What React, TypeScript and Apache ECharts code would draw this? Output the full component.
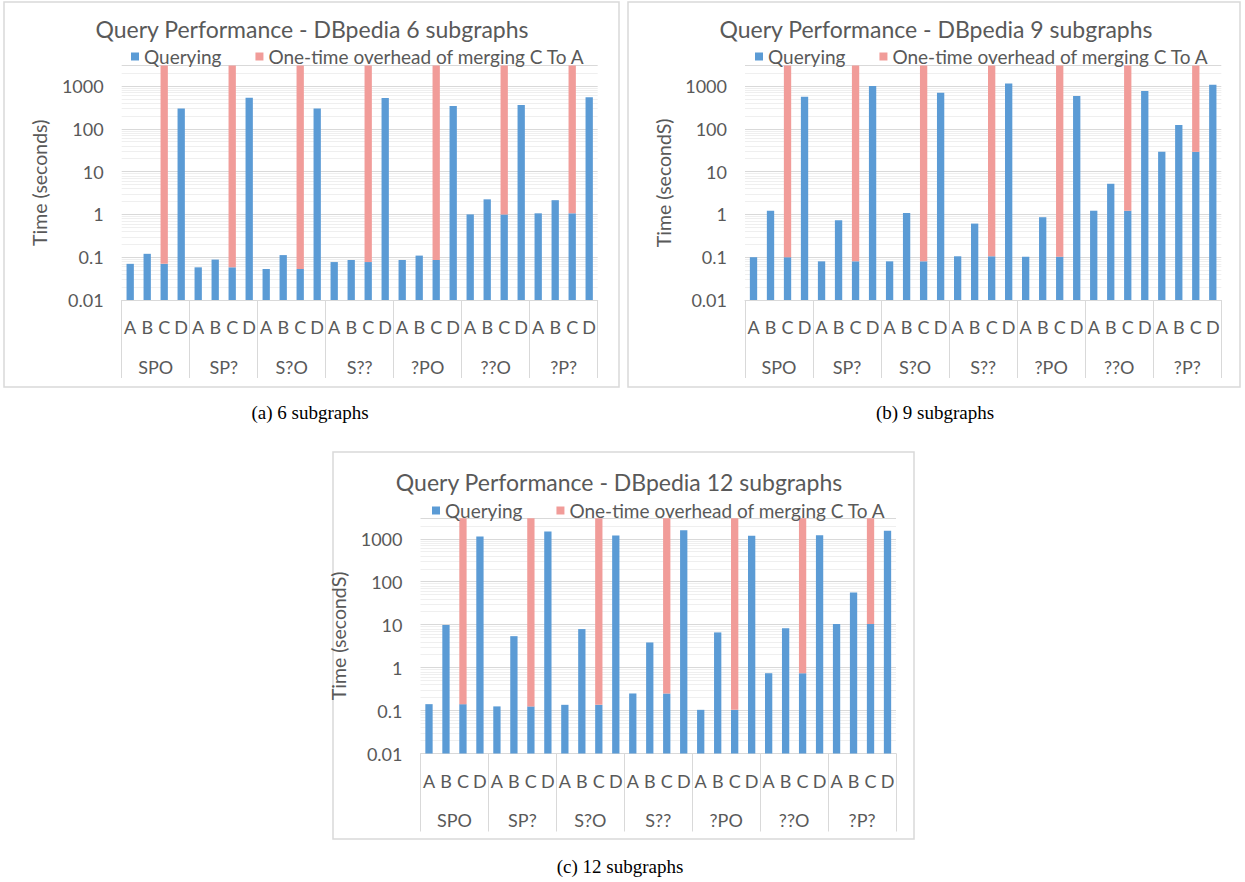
import React, { useEffect, useRef } from "react";
import * as echarts from "echarts";

const groups = ["SPO", "SP?", "S?O", "S??", "?PO", "??O", "?P?"];
const letters = ["A", "B", "C", "D"];

// Querying time (seconds), 4 bars (A, B, C, D) per group
const query6 = [
  0.07, 0.12, 0.07, 300,
  0.058, 0.088, 0.058, 530,
  0.053, 0.112, 0.053, 300,
  0.077, 0.086, 0.077, 525,
  0.086, 0.109, 0.086, 340,
  1.0, 2.25, 1.0, 360,
  1.06, 2.15, 1.06, 545,
];
const query9 = [
  0.1, 1.22, 0.1, 560,
  0.08, 0.73, 0.08, 1000,
  0.08, 1.08, 0.08, 700,
  0.105, 0.61, 0.105, 1150,
  0.103, 0.86, 0.103, 585,
  1.22, 5.2, 1.22, 765,
  29, 123, 29, 1075,
];
const query12 = [
  0.141, 9.8, 0.141, 1130,
  0.125, 5.4, 0.125, 1470,
  0.136, 7.9, 0.136, 1190,
  0.25, 3.85, 0.25, 1580,
  0.104, 6.6, 0.104, 1170,
  0.74, 8.2, 0.74, 1210,
  10.4, 56, 10.4, 1530,
];
// One-time overhead of merging C to A (only on C bars, exceeds the axis)
const overhead6 = [
  "-", "-", 5000, "-", "-", "-", 5000, "-", "-", "-", 5000, "-", "-", "-", 5000, "-",
  "-", "-", 5000, "-", "-", "-", 5000, "-", "-", "-", 5000, "-",
];
const overhead9 = [
  "-", "-", 5000, "-", "-", "-", 5000, "-", "-", "-", 5000, "-", "-", "-", 5000, "-",
  "-", "-", 5000, "-", "-", "-", 5000, "-", "-", "-", 5000, "-",
];
const overhead12 = [
  "-", "-", 5000, "-", "-", "-", 5000, "-", "-", "-", 5000, "-", "-", "-", 5000, "-",
  "-", "-", 5000, "-", "-", "-", 5000, "-", "-", "-", 5000, "-",
];
const yTickLabels = ["0.01", "0.1", "1", "10", "100", "1000"];
// tiny invisible base so that log-axis bars grow from the bottom of the plot
const LOG_FLOOR = 1e-7;

const SERIES_Q = "Querying";
const SERIES_O = "One-time overhead of merging C To A";
const BLUE = "#5B9BD5";
const PINK = "#F19C99";
const TEXT = "#595959";
const FONT = "Lato";

const charts = [
  {
    title: "Query Performance - DBpedia 6 subgraphs",
    yName: "Time (seconds)",
    caption: "(a) 6 subgraphs",
    q: query6,
    o: overhead6,
    grid: { left: 121.7, top: 65.6, width: 476, height: 234.4 },
    titleX: 312, titleY: 17,
    legendX: 131, legendY: 47,
    box: { x: 4, y: 2, width: 615, height: 385 },
    capX: 310, capY: 412,
  },
  {
    title: "Query Performance - DBpedia 9 subgraphs",
    yName: "Time (secondS)",
    caption: "(b) 9 subgraphs",
    q: query9,
    o: overhead9,
    grid: { left: 745, top: 65.6, width: 476.3, height: 234.4 },
    titleX: 936, titleY: 17,
    legendX: 755, legendY: 47,
    box: { x: 628, y: 2, width: 612, height: 385 },
    capX: 935, capY: 412,
  },
  {
    title: "Query Performance - DBpedia 12 subgraphs",
    yName: "Time (secondS)",
    caption: "(c) 12 subgraphs",
    q: query12,
    o: overhead12,
    grid: { left: 420.5, top: 518.3, width: 475.5, height: 235.2 },
    titleX: 619, titleY: 470,
    legendX: 432, legendY: 501,
    box: { x: 333, y: 452, width: 581, height: 387 },
    capX: 620, capY: 866,
  },
];

function fmtLog(v: number): string {
  const e = Math.log10(v);
  const r = Math.round(e);
  if (Math.abs(e - r) > 1e-6) return "";
  const idx = r + 2;
  return yTickLabels[idx] !== undefined ? yTickLabels[idx] : "";
}

export default function App() {
  const ref = useRef<HTMLDivElement>(null);
  useEffect(() => {
    if (!ref.current) return;
    const chart = echarts.init(ref.current, undefined, { renderer: "svg" });
    const letters28 = groups.flatMap(() => letters);
    const floorData = letters28.map(() => LOG_FLOOR);

    const grid: any[] = [];
    const xAxis: any[] = [];
    const yAxis: any[] = [];
    const series: any[] = [];
    const title: any[] = [];
    const legend: any[] = [];
    const graphic: any[] = [];

    charts.forEach((c, i) => {
      grid.push({ ...c.grid, containLabel: false, outerBoundsMode: "none" });
      xAxis.push({
        type: "category",
        gridIndex: i,
        position: "bottom",
        data: letters28,
        axisLine: { show: true, lineStyle: { color: "#D9D9D9" } },
        axisTick: { show: false },
        axisLabel: { interval: 0, margin: 18, fontSize: 18, color: TEXT, fontFamily: FONT },
        splitLine: { show: false },
      });
      xAxis.push({
        type: "category",
        gridIndex: i,
        position: "bottom",
        data: groups,
        axisLine: { show: false },
        axisTick: { show: true, length: 78, interval: 0, lineStyle: { color: "#D9D9D9" } },
        axisLabel: { interval: 0, margin: 57.5, fontSize: 18, color: TEXT, fontFamily: FONT },
        splitLine: { show: false },
      });
      yAxis.push({
        type: "log",
        logBase: 10,
        gridIndex: i,
        min: 0.01,
        max: 3000,
        axisLine: { show: false },
        axisTick: { show: false },
        axisLabel: { formatter: fmtLog, margin: 18, fontSize: 18, color: TEXT, fontFamily: FONT },
        splitLine: { show: true, lineStyle: { color: "#D9D9D9" } },
        minorTick: { show: false, splitNumber: 9 },
        minorSplitLine: { show: true, lineStyle: { color: "#EFEFEF" } },
        name: c.yName,
        nameLocation: "middle",
        nameGap: 72,
        nameTextStyle: { fontSize: 19.5, color: TEXT, fontFamily: FONT },
      });
      series.push({
        type: "bar",
        name: "_base" + i,
        xAxisIndex: 2 * i,
        yAxisIndex: i,
        stack: "s" + i,
        barWidth: "43%",
        data: floorData,
        silent: true,
        itemStyle: { color: "rgba(0,0,0,0)" },
      });
      series.push({
        type: "bar",
        name: SERIES_Q,
        xAxisIndex: 2 * i,
        yAxisIndex: i,
        stack: "s" + i,
        barWidth: "43%",
        data: c.q,
        itemStyle: { color: BLUE },
      });
      series.push({
        type: "bar",
        name: SERIES_O,
        xAxisIndex: 2 * i,
        yAxisIndex: i,
        stack: "s" + i,
        barWidth: "43%",
        data: c.o,
        itemStyle: { color: PINK },
      });
      title.push({
        text: c.title,
        left: c.titleX,
        top: c.titleY,
        textAlign: "center",
        padding: 0,
        textStyle: { fontSize: 23, fontWeight: "normal", color: TEXT, fontFamily: FONT },
      });
      legend.push({
        left: c.legendX,
        top: c.legendY,
        padding: 0,
        icon: "rect",
        itemWidth: 8,
        itemHeight: 8,
        itemGap: 34,
        data: [SERIES_Q, SERIES_O],
        textStyle: { fontSize: 19, color: TEXT, fontFamily: FONT },
      });
      graphic.push({
        type: "rect",
        shape: { ...c.box },
        style: { fill: "none", stroke: "#D9D9D9", lineWidth: 1.5 },
        silent: true,
        z: -1,
      });
      graphic.push({
        type: "text",
        x: c.capX,
        y: c.capY,
        style: {
          text: c.caption,
          fill: "#000",
          font: '19px "Liberation Serif", serif',
          textAlign: "center",
          textVerticalAlign: "middle",
        },
      });
    });

    chart.setOption({
      animation: false,
      backgroundColor: "#fff",
      title,
      legend,
      grid,
      xAxis,
      yAxis,
      series,
      graphic,
    });
    return () => chart.dispose();
  }, []);
  return (
    <div
      ref={ref}
      style={{ position: "absolute", left: 0, top: 0, width: 1245, height: 882 }}
    />
  );
}
